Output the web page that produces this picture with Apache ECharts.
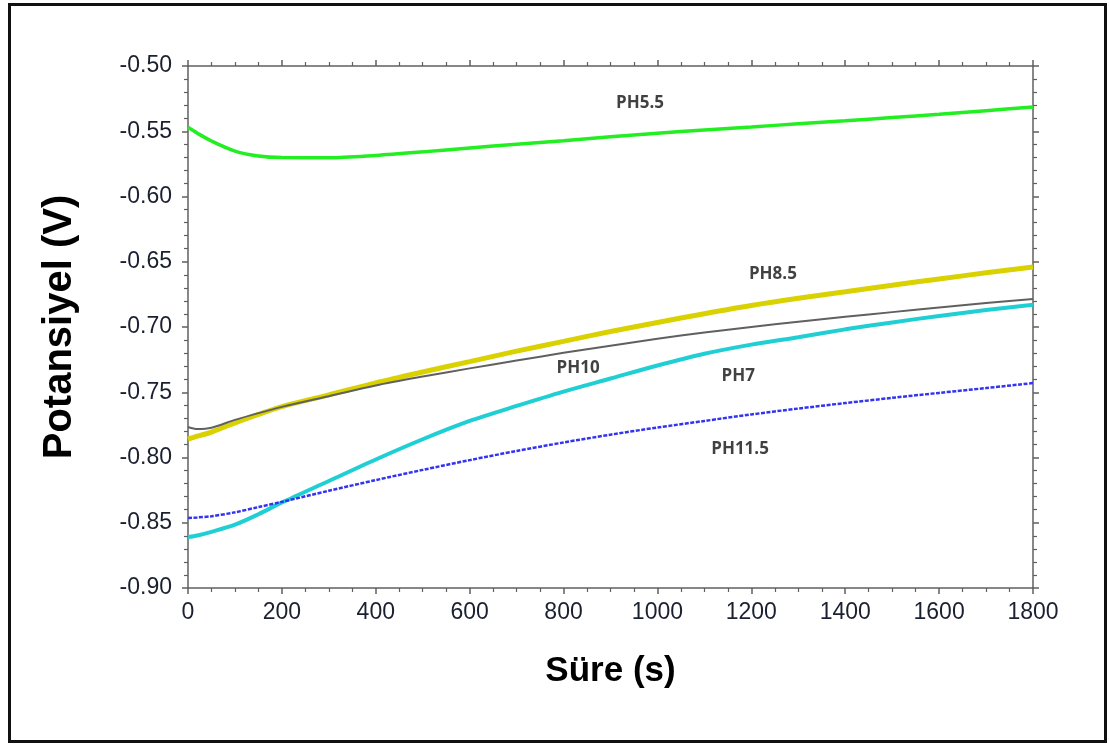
<!DOCTYPE html>
<html>
<head>
<meta charset="utf-8">
<script src="https://cdn.jsdelivr.net/npm/echarts@6/dist/echarts.min.js"></script>
<style>html,body{margin:0;padding:0;background:#fff;}#chart{width:1109px;height:744px;}</style>
</head>
<body>
<div id="chart"></div>
<script>
// ---- data ----
const seriesNames = ['PH5.5', 'PH8.5', 'PH10', 'PH7', 'PH11.5'];
const t = [0, 20, 50, 100, 150, 200, 300, 400, 500, 600, 700, 800, 900, 1000, 1100, 1200, 1300, 1400, 1500, 1600, 1700, 1800];
const ph55 = [-0.547, -0.5515, -0.5575, -0.5652, -0.569, -0.5702, -0.5703, -0.5685, -0.5658, -0.5628, -0.560, -0.5572, -0.5543, -0.5515, -0.549, -0.5467, -0.5443, -0.542, -0.5395, -0.537, -0.5342, -0.5314];
const ph85 = [-0.786, -0.7837, -0.7805, -0.7735, -0.767, -0.761, -0.752, -0.7428, -0.7345, -0.7265, -0.7185, -0.711, -0.7035, -0.6965, -0.6898, -0.6835, -0.678, -0.673, -0.668, -0.6632, -0.6585, -0.654];
const ph10 = [-0.7766, -0.7782, -0.7772, -0.7712, -0.766, -0.7612, -0.753, -0.7448, -0.738, -0.7317, -0.7257, -0.7198, -0.7143, -0.709, -0.7042, -0.7, -0.696, -0.6922, -0.6886, -0.6851, -0.6817, -0.6785];
const ph7 = [-0.861, -0.8598, -0.857, -0.8515, -0.8435, -0.8345, -0.818, -0.8015, -0.786, -0.772, -0.7605, -0.7495, -0.7395, -0.7295, -0.7205, -0.7135, -0.7078, -0.7018, -0.6965, -0.6915, -0.687, -0.683];
const ph115 = [-0.8464, -0.8459, -0.845, -0.842, -0.838, -0.834, -0.8255, -0.8173, -0.8095, -0.802, -0.795, -0.7885, -0.7825, -0.777, -0.772, -0.767, -0.7625, -0.7583, -0.7543, -0.7505, -0.7468, -0.743];
const labelNames = ['PH5.5', 'PH8.5', 'PH10', 'PH7', 'PH11.5'];
const labelX = [963, 1246, 831, 1172, 1176];
const labelY = [-0.5284, -0.6594, -0.7314, -0.7375, -0.7935];
const xMin = 0, xMax = 1800, xStep = 200;
const yMin = -0.90, yMax = -0.50, yStep = 0.05;

const pairs = (vals) => t.map((x, i) => [x, vals[i]]);
const chart = echarts.init(document.getElementById('chart'), null, {renderer: 'canvas'});

const axisLineStyle = {color: '#606060', width: 1.5};
const labelStyle = {color: '#1a2030', fontFamily: 'Liberation Sans, Arial, sans-serif', fontSize: 23};

function xAx(pos, showLabels) {
  return {
    type: 'value', position: pos, min: xMin, max: xMax, interval: xStep,
    axisLine: {show: true, onZero: false, lineStyle: axisLineStyle},
    axisTick: {show: true, inside: false, length: 6, lineStyle: axisLineStyle},
    minorTick: {show: true, splitNumber: 4, length: 4, lineStyle: {color: '#606060', width: 1.2}},
    splitLine: {show: false},
    axisLabel: Object.assign({show: showLabels, margin: 13, formatter: v => String(v)}, labelStyle),
    name: showLabels ? 'Süre (s)' : '',
    nameLocation: 'middle', nameGap: 66,
    nameTextStyle: {fontFamily: 'Liberation Sans, Arial, sans-serif', fontWeight: 'bold', fontSize: 35, color: '#000'}
  };
}
function yAx(pos, showLabels) {
  return {
    type: 'value', position: pos, min: yMin, max: yMax, interval: yStep,
    axisLine: {show: true, onZero: false, lineStyle: axisLineStyle},
    axisTick: {show: true, inside: false, length: 6, lineStyle: axisLineStyle},
    minorTick: {show: true, splitNumber: 5, length: 4, lineStyle: {color: '#606060', width: 1.2}},
    splitLine: {show: false},
    axisLabel: Object.assign({show: showLabels, margin: 16, formatter: v => v.toFixed(2)}, labelStyle),
    name: showLabels ? 'Potansiyel (V)' : '',
    nameLocation: 'middle', nameGap: 108,
    nameTextStyle: {fontFamily: 'Liberation Sans, Arial, sans-serif', fontWeight: 'bold', fontSize: 40, color: '#000'}
  };
}

const lineStyles = [
  {color: '#22ee22', width: 3.5},
  {color: '#d9d200', width: 5},
  {color: '#606060', width: 2},
  {color: '#1fcfd4', width: 4},
  {color: '#3434f0', width: 2.5, type: [4, 1.5]}
];
const vals = [ph55, ph85, ph10, ph7, ph115];

const series = vals.map((v, i) => ({
  name: seriesNames[i], type: 'line', xAxisIndex: 0, yAxisIndex: 0,
  data: pairs(v), smooth: 0.3, showSymbol: false, symbol: 'none',
  lineStyle: lineStyles[i], itemStyle: {color: lineStyles[i].color}, silent: true, z: 2 + i
}));
series.push({
  type: 'scatter', xAxisIndex: 0, yAxisIndex: 0, symbolSize: 0, silent: true, z: 10,
  data: labelNames.map((n, i) => ({name: n, value: [labelX[i], labelY[i]]})),
  label: {show: true, position: 'inside', formatter: p => p.name,
    fontFamily: 'Open Sans, sans-serif', fontWeight: 'bold', fontSize: 17, color: '#111'}
});

chart.setOption({
  animation: false,
  backgroundColor: '#fff',
  grid: {left: 188, right: 76, top: 66, bottom: 156, containLabel: false},
  xAxis: [xAx('bottom', true), xAx('top', false)],
  yAxis: [yAx('left', true), yAx('right', false)],
  series: series,
  graphic: [{
    type: 'rect', left: 7, top: 2, silent: true, z: 100,
    shape: {width: 1096, height: 737},
    style: {fill: 'none', stroke: '#111', lineWidth: 3}
  }]
});
</script>
</body>
</html>
